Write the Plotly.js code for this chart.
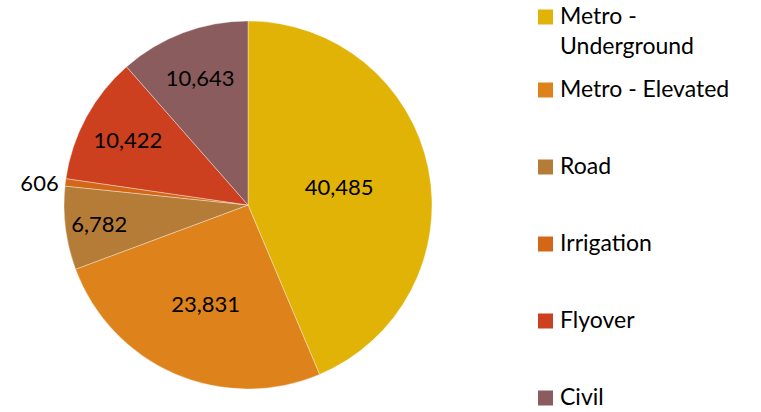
<!DOCTYPE html>
<html>
<head>
<meta charset="utf-8">
<script src="https://cdn.plot.ly/plotly-3.0.1.min.js"></script>
<style>html,body{margin:0;padding:0;background:#fff;}#chart{width:761px;height:412px;}</style>
</head>
<body>
<div id="chart"></div>
<script>
var categories = ["Metro - Underground", "Metro - Elevated", "Road", "Irrigation", "Flyover", "Civil"];
var legendLabels = ["Metro -<br>Underground", "Metro - Elevated", "Road", "Irrigation", "Flyover", "Civil"];
var values = [40485, 23831, 6782, 606, 10422, 10643];
var colors = ["#E1B307", "#DE821C", "#B47C37", "#D46617", "#CC3F1F", "#8B5C5E"];

var W = 761, H = 412;
var FONT = "Lato, 'Noto Sans', sans-serif";
var LEG_SIZE = 23;

var textPositions = values.map(function (v) { return v < 1000 ? "outside" : "inside"; });

var trace = {
  type: "pie",
  labels: categories,
  values: values,
  sort: false,
  direction: "clockwise",
  rotation: 0,
  marker: { colors: colors, line: { color: "rgba(255,255,255,0.6)", width: 0.6 } },
  texttemplate: "%{value:,}",
  textinfo: "value",
  textposition: textPositions,
  insidetextorientation: "horizontal",
  insidetextfont: { family: FONT, size: 22, color: "#000" },
  outsidetextfont: { family: FONT, size: 22, color: "#000" },
  automargin: false,
  hoverinfo: "none",
  showlegend: false,
  domain: { x: [64 / W, 432 / W], y: [1 - 389 / H, 1 - 21 / H] }
};

// custom legend laid out like the original (evenly spread entries)
var legendCapCenters = [17, 90, 167, 244, 321, 398];
var annotations = [], shapes = [];
var lineH = LEG_SIZE * 1.3;
categories.forEach(function (c, i) {
  var nLines = legendLabels[i].split("<br>").length;
  var cy = legendCapCenters[i];
  annotations.push({
    xref: "paper", yref: "paper",
    x: 559 / W, y: 1 - (cy + (nLines - 1) * lineH / 2 - 2) / H,
    xanchor: "left", yanchor: "middle", align: "left",
    text: legendLabels[i], showarrow: false, borderpad: 0,
    font: { family: FONT, size: LEG_SIZE, color: "#000" }
  });
  shapes.push({
    type: "rect", xref: "paper", yref: "paper",
    x0: 538 / W, x1: 553 / W,
    y0: 1 - (cy + 7.5) / H, y1: 1 - (cy - 7.5) / H,
    fillcolor: colors[i], line: { width: 0 }
  });
});

var layout = {
  width: W, height: H,
  margin: { l: 0, r: 0, t: 0, b: 0 },
  paper_bgcolor: "#fff",
  showlegend: false,
  font: { family: FONT, size: 22, color: "#000" },
  annotations: annotations,
  shapes: shapes
};

Plotly.newPlot("chart", [trace], layout, { displayModeBar: false, staticPlot: true });
</script>
</body>
</html>
